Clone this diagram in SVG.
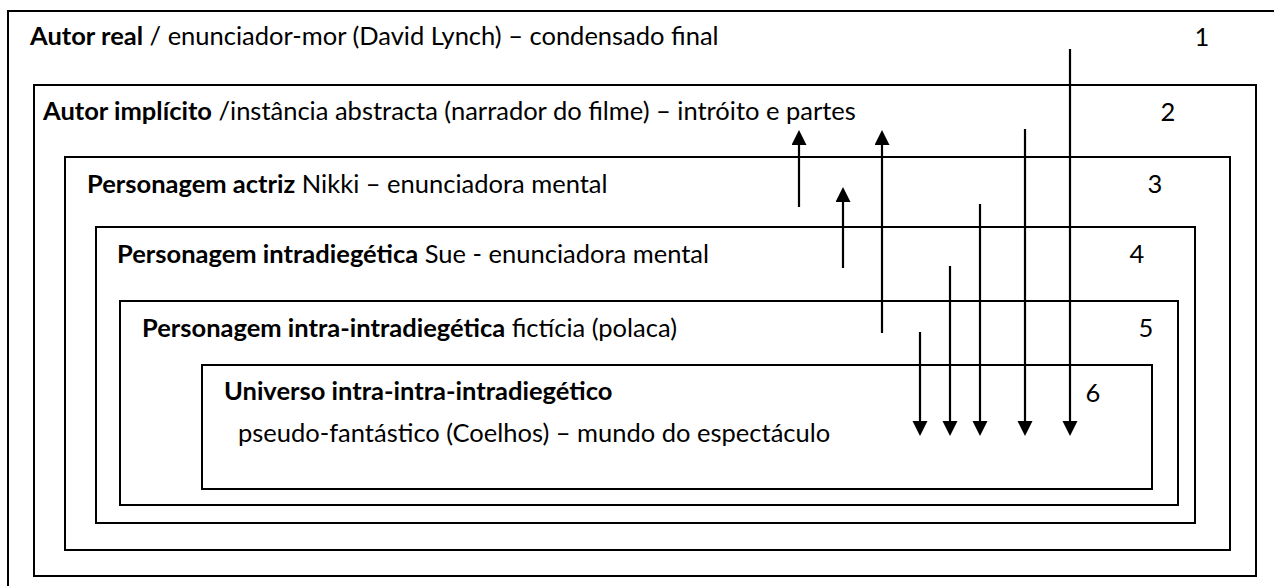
<svg xmlns="http://www.w3.org/2000/svg" width="1274" height="586" viewBox="0 0 1274 586">
<style>
.box{fill:none;stroke:#000;stroke-width:2}
text{font-family:Lato,"Open Sans","Liberation Sans",sans-serif;font-size:25.5px;fill:#000}
.b{font-weight:bold}
.num{text-anchor:middle}
.arr{stroke:#000;stroke-width:2.2;fill:none;marker-end:url(#ah)}
</style>
<defs>
<marker id="ah" markerUnits="userSpaceOnUse" markerWidth="16" markerHeight="16" refX="1" refY="7.5" orient="auto">
<path d="M0,0 L15,7.5 L0,15 z" fill="#000"/>
</marker>
</defs>
<rect width="1274" height="586" fill="#fff"/>
<g id="level1">
<rect class="box" x="8" y="11" width="1300" height="600"/>
<text x="30" y="45"><tspan class="b">Autor real</tspan> / enunciador-mor (David Lynch) – condensado final</text>
<text class="num" x="1202" y="46">1</text>
</g>
<g id="level2">
<rect class="box" x="34" y="85" width="1222" height="491"/>
<text x="43" y="120"><tspan class="b">Autor implícito</tspan> /instância abstracta (narrador do filme) – intróito e partes</text>
<text class="num" x="1168" y="121">2</text>
</g>
<g id="level3">
<rect class="box" x="65" y="157" width="1165" height="393"/>
<text x="87" y="193"><tspan class="b">Personagem actriz</tspan> Nikki  – enunciadora mental</text>
<text class="num" x="1155" y="193">3</text>
</g>
<g id="level4">
<rect class="box" x="96" y="227" width="1099" height="296"/>
<text x="117" y="263"><tspan class="b">Personagem intradiegética</tspan> Sue - enunciadora mental</text>
<text class="num" x="1137" y="263">4</text>
</g>
<g id="level5">
<rect class="box" x="120" y="301" width="1058" height="204"/>
<text x="142" y="337"><tspan class="b">Personagem intra-intradiegética</tspan> fictícia (polaca)</text>
<text class="num" x="1146" y="337">5</text>
</g>
<g id="level6">
<rect class="box" x="202" y="365" width="950" height="124"/>
<text class="b" x="224" y="400">Universo intra-intra-intradiegético</text>
<text x="238" y="442">pseudo-fantástico (Coelhos) – mundo do espectáculo</text>
<text class="num" x="1093" y="402">6</text>
</g>
<g id="connectors">
<line class="arr" x1="799" y1="207" x2="799" y2="144"/>
<line class="arr" x1="843" y1="268" x2="843" y2="201"/>
<line class="arr" x1="882" y1="333" x2="882" y2="144"/>
<line class="arr" x1="920" y1="332" x2="920" y2="422"/>
<line class="arr" x1="950" y1="266" x2="950" y2="422"/>
<line class="arr" x1="980" y1="204" x2="980" y2="422"/>
<line class="arr" x1="1025" y1="129" x2="1025" y2="422"/>
<line class="arr" x1="1070" y1="49" x2="1070" y2="422"/>
</g>
</svg>
